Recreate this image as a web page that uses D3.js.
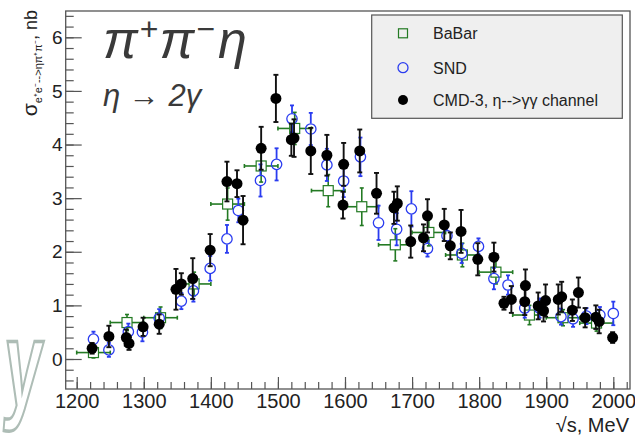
<!DOCTYPE html>
<html><head><meta charset="utf-8">
<script src="https://cdn.jsdelivr.net/npm/d3@7"></script>
<style>
body{margin:0;background:#fff}
svg{display:block}
text{font-family:"Liberation Sans",Arial,Helvetica,sans-serif}
</style>
</head><body>
<svg id="c" width="635" height="436"></svg>
<script>
// ---- data ----
const xTicks = [1200,1300,1400,1500,1600,1700,1800,1900,2000];
const yTicks = [0,1,2,3,4,5,6];

const cmdE   = [1223,1248,1274,1278,1299,1323,1348,1356,1373,1399,1424,1439,1448,1475,1497,1520,1524,1549,1573,1598,1597,1622,1647,1673,1678,1698,1717,1723,1748,1757,1773,1798,1822,1837,1848,1868,1869,1888,1896,1899,1918,1923,1939,1948,1958,1974,1979,1999];
const cmdV   = [0.20,0.42,0.40,0.29,0.60,0.65,1.30,1.40,1.50,2.03,3.31,3.27,2.59,3.93,4.86,4.09,4.12,3.88,3.80,3.63,2.87,3.88,3.09,2.82,2.90,2.19,2.26,2.67,2.50,2.11,2.38,1.86,1.90,1.04,1.11,1.07,1.37,0.99,0.90,1.09,1.11,1.16,0.91,1.24,0.77,0.78,0.70,0.40];
const cmdErr = [0.10,0.20,0.15,0.12,0.17,0.18,0.38,0.20,0.38,0.30,0.37,0.25,0.45,0.40,0.44,0.30,0.35,0.43,0.38,0.40,0.25,0.40,0.38,0.30,0.32,0.30,0.25,0.31,0.30,0.25,0.40,0.30,0.27,0.12,0.25,0.25,0.30,0.25,0.20,0.30,0.28,0.28,0.20,0.28,0.18,0.22,0.22,0.10];

const sndE   = [1225,1248,1277,1298,1323,1356,1374,1399,1424,1441,1474,1498,1521,1549,1573,1598,1623,1650,1677,1699,1723,1752,1774,1799,1822,1843,1868,1890,1922,1940,1960,1980,2000];
const sndV   = [0.37,0.17,0.51,0.50,0.76,1.08,1.27,1.69,2.24,2.77,3.33,3.63,4.48,4.29,3.62,3.32,3.77,2.54,2.42,2.80,2.06,2.30,1.97,2.10,1.50,1.38,0.95,0.95,0.79,0.75,0.80,0.82,0.85];
const sndErr = [0.14,0.13,0.15,0.17,0.17,0.15,0.20,0.23,0.26,0.22,0.30,0.30,0.25,0.30,0.30,0.30,0.36,0.32,0.30,0.33,0.15,0.20,0.18,0.15,0.20,0.18,0.18,0.18,0.15,0.15,0.15,0.15,0.22];

const babarE    = [1225,1275,1325,1375,1425,1475,1525,1575,1625,1675,1725,1775,1825,1875,1925,1975];
const babarV    = [0.12,0.68,0.77,1.40,2.89,3.60,4.30,3.14,2.84,2.13,2.36,1.94,1.62,0.82,0.77,0.67];
const babarErr  = [0.10,0.15,0.20,0.22,0.30,0.30,0.30,0.30,0.35,0.30,0.25,0.22,0.22,0.18,0.15,0.15];
const babarHalf = 25;

const legendLabels = ["BaBar","SND","CMD-3, η-->γγ channel"];

// ---- chart ----
const svg = d3.select("#c");
const frame = {l:65.7, r:630, t:11, b:389};
const x = d3.scaleLinear().domain([1200,2000]).range([76.7,613.3]);
const y = d3.scaleLinear().domain([0,6]).range([359,37.3]);

const axisCol = "#555";

// watermark fragment (behind everything)
svg.append("text").attr("transform","translate(2,406) scale(0.55,1) skewX(-8)")
  .attr("font-size",122).attr("font-weight","bold")
  .attr("fill","none").attr("stroke","#aebdb6").attr("stroke-width",3.5).text("y");

// frame
svg.append("rect").attr("x",frame.l).attr("y",frame.t)
  .attr("width",frame.r-frame.l).attr("height",frame.b-frame.t)
  .attr("fill","#fff").attr("stroke",axisCol).attr("stroke-width",1.3);

// x axis
const xMinor = d3.range(1200,2021,20);
const gxm = svg.append("g").attr("transform",`translate(0,${frame.b})`)
  .call(d3.axisBottom(x).tickValues(xMinor).tickSize(-7).tickFormat(""));
const gx = svg.append("g").attr("transform",`translate(0,${frame.b})`)
  .call(d3.axisBottom(x).tickValues(xTicks).tickSize(-12).tickPadding(5).tickFormat(d3.format("d")));
// y axis
const yMinor = d3.range(-0.4,6.41,0.2);
const gym = svg.append("g").attr("transform",`translate(${frame.l},0)`)
  .call(d3.axisLeft(y).tickValues(yMinor).tickSize(-8).tickFormat(""));
const gy = svg.append("g").attr("transform",`translate(${frame.l},0)`)
  .call(d3.axisLeft(y).tickValues(yTicks).tickSize(-16).tickPadding(3).tickFormat(d3.format("d")));
[gxm,gx,gym,gy].forEach(g=>{
  g.select(".domain").remove();
  g.selectAll(".tick line").attr("stroke",axisCol).attr("stroke-width",1.2);
});
gx.selectAll("text").attr("font-size",20).attr("fill","#222").attr("font-family","Liberation Sans, Arial");
gy.selectAll("text").attr("font-size",19).attr("fill","#222").attr("font-family","Liberation Sans, Arial");

// axis titles
svg.append("text").attr("x",629).attr("y",432).attr("text-anchor","end")
  .attr("font-size",20).attr("fill","#222").text("√s, MeV");

const yl = svg.append("text").attr("transform","translate(37,10) rotate(-90)")
  .attr("text-anchor","end").attr("fill","#222");
yl.append("tspan").attr("font-size",21).text("σ");
yl.append("tspan").attr("font-size",11).attr("dy",5).text("e⁺e⁻-->ηπ⁺π⁻");
yl.append("tspan").attr("font-size",18).attr("dy",-5).text(", nb");

// big labels
const t1 = svg.append("text").attr("x",103).attr("y",58).attr("fill","#3a3a3a")
  .attr("font-family","Liberation Serif, DejaVu Serif, serif").attr("font-style","italic").attr("font-size",52);
t1.append("tspan").text("π");
t1.append("tspan").attr("font-size",32).attr("dy",-18).attr("dx",2).attr("font-style","normal").text("+");
t1.append("tspan").attr("dy",18).attr("dx",1).text("π");
t1.append("tspan").attr("font-size",32).attr("dy",-18).attr("dx",2).attr("font-style","normal").text("−");
t1.append("tspan").attr("dy",18).attr("dx",3).text("η");
svg.append("text").attr("x",103).attr("y",106).attr("fill","#3a3a3a")
  .attr("font-family","Liberation Serif, DejaVu Serif, serif").attr("font-style","italic").attr("font-size",31)
  .text("η → 2γ");

// ---- data marks ----
const plot = svg.append("g");
function vbars(g, E, V, Er, r, col, w, cap){
  E.forEach((e,i)=>{
    const cx=x(e), cy=y(V[i]), y1=y(V[i]+Er[i]), y0=y(V[i]-Er[i]);
    if (cy - y1 > r) g.append("line").attr("x1",cx).attr("x2",cx).attr("y1",y1).attr("y2",cy-r).attr("stroke",col).attr("stroke-width",w);
    if (y0 - cy > r) g.append("line").attr("x1",cx).attr("x2",cx).attr("y1",cy+r).attr("y2",y0).attr("stroke",col).attr("stroke-width",w);
    [y1,y0].forEach(yy=>g.append("line").attr("x1",cx-cap).attr("x2",cx+cap).attr("y1",yy).attr("y2",yy).attr("stroke",col).attr("stroke-width",w));
  });
}
// BaBar
const green="#237a23";
const gB = plot.append("g");
babarE.forEach((e,i)=>{
  const cx=x(e), cy=y(babarV[i]), xl=x(e-babarHalf), xr=x(e+babarHalf);
  gB.append("line").attr("x1",xl).attr("x2",cx-5).attr("y1",cy).attr("y2",cy).attr("stroke",green).attr("stroke-width",1.6);
  gB.append("line").attr("x1",cx+5).attr("x2",xr).attr("y1",cy).attr("y2",cy).attr("stroke",green).attr("stroke-width",1.6);
  [xl,xr].forEach(xx=>gB.append("line").attr("x1",xx).attr("x2",xx).attr("y1",cy-2).attr("y2",cy+2).attr("stroke",green).attr("stroke-width",1.6));
});
vbars(gB, babarE, babarV, babarErr, 5, green, 1.6, 2);
gB.selectAll("rect.m").data(babarE).join("rect").attr("class","m")
  .attr("x",(d)=>x(d)-5).attr("y",(d,i)=>y(babarV[i])-5).attr("width",10).attr("height",10)
  .attr("fill","none").attr("stroke",green).attr("stroke-width",1.2);

// SND
const blue="#2a3cf0";
const gS = plot.append("g");
vbars(gS, sndE, sndV, sndErr, 5.5, blue, 1.8, 2);
gS.selectAll("circle").data(sndE).join("circle")
  .attr("cx",d=>x(d)).attr("cy",(d,i)=>y(sndV[i])).attr("r",5.2)
  .attr("fill","none").attr("stroke",blue).attr("stroke-width",1.3);

// CMD-3
const gC = plot.append("g");
vbars(gC, cmdE, cmdV, cmdErr, 0, "#111", 1.9, 2.5);
gC.selectAll("circle").data(cmdE).join("circle")
  .attr("cx",d=>x(d)).attr("cy",(d,i)=>y(cmdV[i])).attr("r",5.5).attr("fill","#000");

// ---- legend ----
const lg = svg.append("g");
lg.append("rect").attr("x",371.7).attr("y",15).attr("width",250.6).attr("height",103.3)
  .attr("fill","#efefef").attr("stroke","#555").attr("stroke-width",1.2);
const ly = [33.3,67.7,100];
lg.append("rect").attr("x",398.5).attr("y",ly[0]-4.5).attr("width",9).attr("height",9)
  .attr("fill","none").attr("stroke",green).attr("stroke-width",1.2);
lg.append("circle").attr("cx",403).attr("cy",ly[1]).attr("r",5).attr("fill","none").attr("stroke",blue).attr("stroke-width",1.3);
lg.append("circle").attr("cx",403).attr("cy",ly[2]).attr("r",5).attr("fill","#000");
legendLabels.forEach((t,i)=>lg.append("text").attr("x",433).attr("y",ly[i]+6)
  .attr("font-size",16).attr("fill","#222").text(t));
</script>
</body></html>
